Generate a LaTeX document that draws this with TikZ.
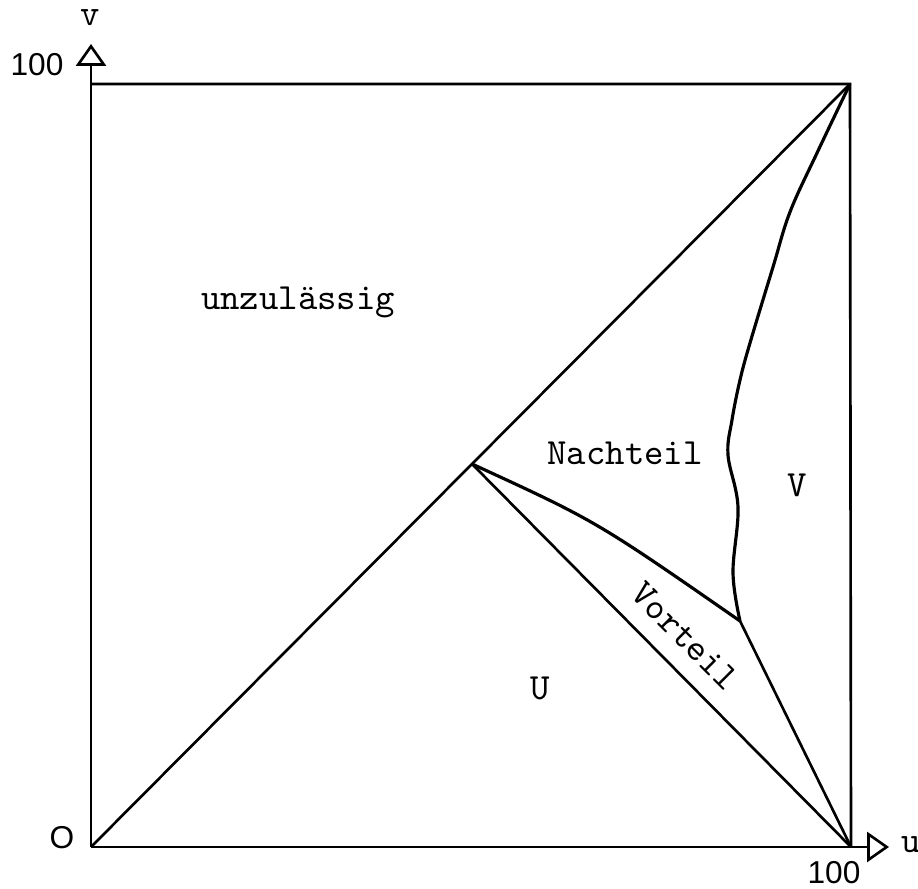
\documentclass[tikz,border=0pt]{standalone}
\usepackage{fontspec}
\setsansfont{Liberation Sans}
\usetikzlibrary{arrows.meta}

\tikzset{
  lbl/.style={font=\ttfamily\fontsize{10.5pt}{12pt}\selectfont, inner sep=0pt},
  num/.style={font=\sffamily\fontsize{9pt}{10pt}\selectfont, inner sep=0pt},
  edge/.style={line width=0.75pt}
}

\begin{document}
\begin{tikzpicture}[x=0.01cm, y=-0.01cm, >={Triangle[open, length=6.2pt, width=8.5pt]}]
    \useasboundingbox (0,0) rectangle (918,889);

    % Eckpunkte
    \coordinate (O) at (91,847);
    \coordinate (A) at (851,847);
    \coordinate (B) at (850,84);
    \coordinate (C) at (91,84);
    \coordinate (M) at (472,464);
    \coordinate (K) at (740,621);
    \coordinate (ux) at (889,847);
    \coordinate (vy) at (91,44);

    % Achsen
    \draw[edge, ->] (O) -- (ux);
    \draw[edge, ->] (O) -- (vy);

    % Rahmen und Diagonale
    \draw[edge] (C) -- (B) -- (A);
    \draw[edge] (O) -- (B);

    % Grenzen der Bereiche
    \draw[edge] (M) -- (A);
    \draw[edge, line width=0.9pt] (M) .. controls (596,521) .. (K);
    \draw[edge] (K) -- (A);
    \draw[edge, line width=0.9pt] plot[smooth, tension=0.6] coordinates {
        (740,621) (733,573) (738,507) (728,455) (732,420) (740,380)
        (750,343) (773,267) (790,212) (817,153) (850,84)};

    % Beschriftungen
    \node[num] (lv) at (37,65) {100};
    \node[num] (lu) at (834,873) {100};
    \node[num] (lo) at (62,838) {O};
    \node[lbl] (nv) at (90,18) {v};
    \node[lbl] (nu) at (911,845) {u};
    \node[lbl] (unz) at (298,302) {unzulässig};
    \node[lbl] (nach) at (625,453) {Nachteil};
    \node[lbl, rotate=-45] (vort) at (685,636) {Vorteil};
    \node[lbl] (regu) at (540,688) {U};
    \node[lbl] (regv) at (797,485) {V};
\end{tikzpicture}
\end{document}
